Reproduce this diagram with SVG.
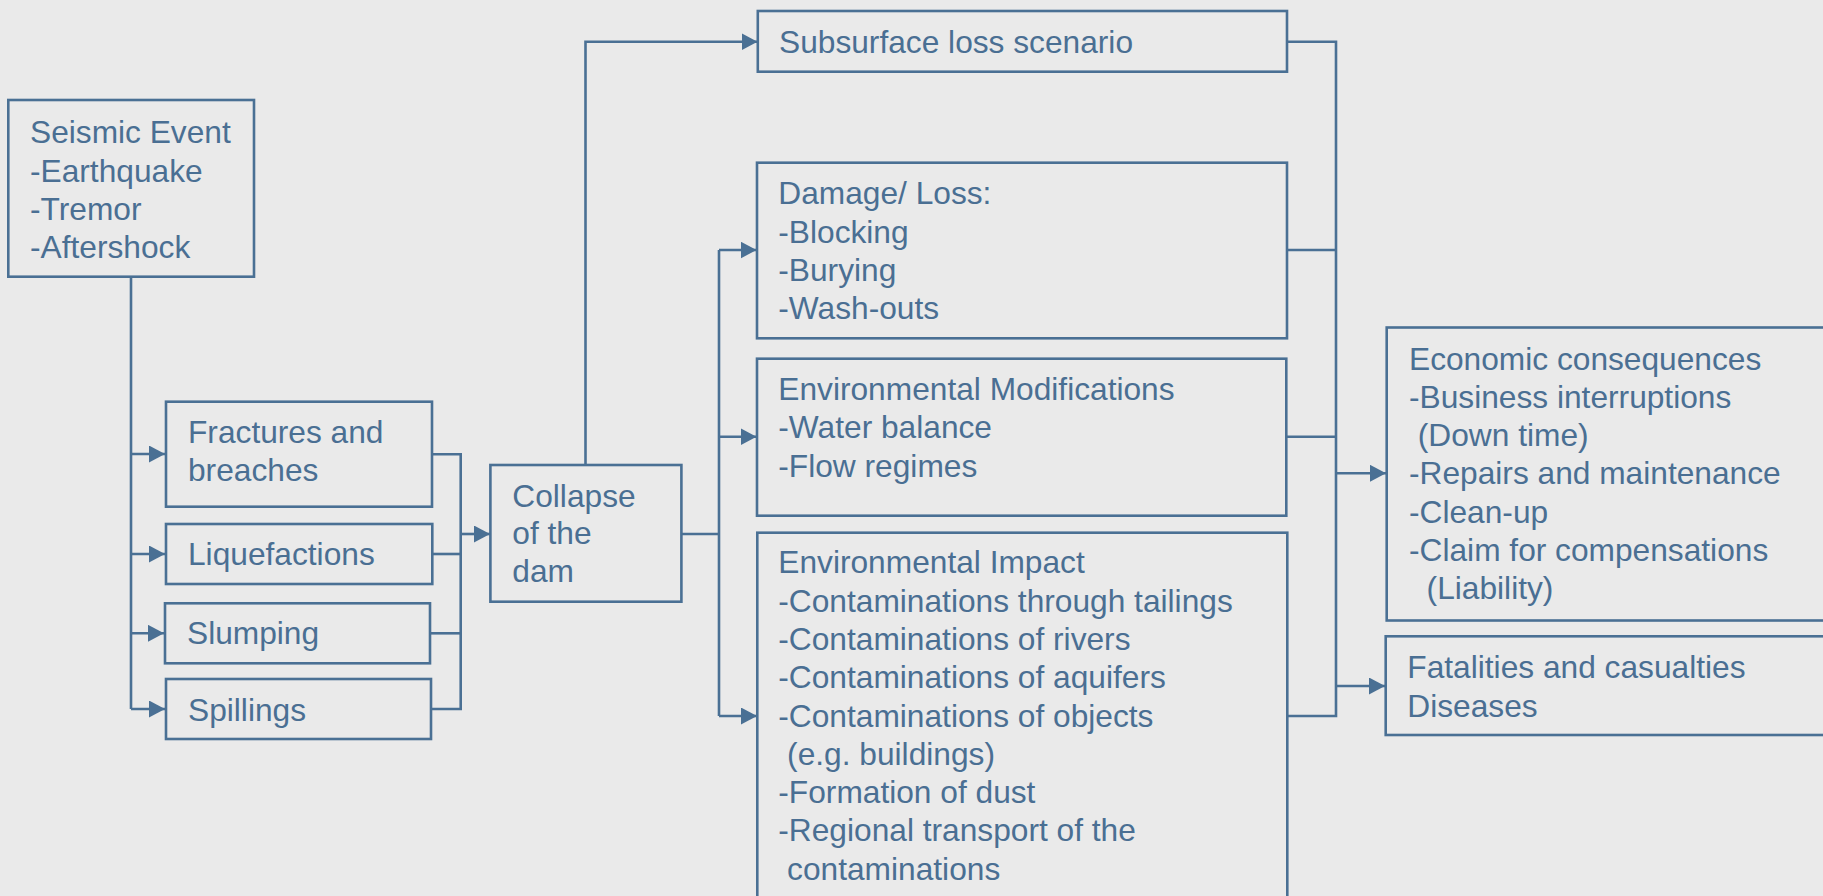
<svg xmlns="http://www.w3.org/2000/svg" width="1823" height="896" viewBox="0 0 1823 896">
<style>
.box{fill:none;stroke:#4a7094;stroke-width:2.6}
.ln{fill:none;stroke:#4a7094;stroke-width:2.6}
.t{font-family:"Liberation Sans",Arial,sans-serif;font-size:31.7px;fill:#4a6f93}
</style>
<defs>
<marker id="ah" markerUnits="userSpaceOnUse" markerWidth="16" markerHeight="17" refX="16" refY="8.5" orient="auto">
<path d="M0,0 L16,8.5 L0,17 z" fill="#4a7094"/>
</marker>
</defs>
<rect x="0" y="0" width="1823" height="896" fill="#eaeaea"/>
<g id="connectors">
<path class="ln" d="M131,277 V709"/>
<path class="ln" d="M131,454 H165" marker-end="url(#ah)"/>
<path class="ln" d="M131,554 H165" marker-end="url(#ah)"/>
<path class="ln" d="M131,633.3 H164" marker-end="url(#ah)"/>
<path class="ln" d="M131,709 H165" marker-end="url(#ah)"/>
<path class="ln" d="M432,454.3 H460.7 V709 H431"/>
<path class="ln" d="M432,554 H460.7"/>
<path class="ln" d="M430,633.3 H460.7"/>
<path class="ln" d="M460.7,534 H490" marker-end="url(#ah)"/>
<path class="ln" d="M585.5,465 V41.7 H757.5" marker-end="url(#ah)"/>
<path class="ln" d="M681,534 H719"/>
<path class="ln" d="M719,250 V716"/>
<path class="ln" d="M719,250 H756.5" marker-end="url(#ah)"/>
<path class="ln" d="M719,436.7 H756.5" marker-end="url(#ah)"/>
<path class="ln" d="M719,716 H757" marker-end="url(#ah)"/>
<path class="ln" d="M1287,41.7 H1336 V716 H1287"/>
<path class="ln" d="M1287,250 H1336"/>
<path class="ln" d="M1286,436.7 H1336"/>
<path class="ln" d="M1336,473.3 H1386" marker-end="url(#ah)"/>
<path class="ln" d="M1336,686 H1385" marker-end="url(#ah)"/>
</g>
<g id="seismic">
<rect class="box" x="8.3" y="100" width="245.7" height="176.7"/>
<text class="t" x="30" y="143.3">Seismic Event</text>
<text class="t" x="30" y="181.6">-Earthquake</text>
<text class="t" x="30" y="219.9">-Tremor</text>
<text class="t" x="30" y="258.2">-Aftershock</text>
</g>
<g id="fractures">
<rect class="box" x="166" y="401.7" width="266" height="105"/>
<text class="t" x="188" y="443.3">Fractures and</text>
<text class="t" x="188" y="480.9">breaches</text>
</g>
<g id="liquefactions">
<rect class="box" x="166" y="524" width="266.3" height="60"/>
<text class="t" x="188" y="565">Liquefactions</text>
</g>
<g id="slumping">
<rect class="box" x="165" y="603.3" width="265" height="60"/>
<text class="t" x="187" y="644.3">Slumping</text>
</g>
<g id="spillings">
<rect class="box" x="166" y="679" width="265" height="60"/>
<text class="t" x="188" y="721">Spillings</text>
</g>
<g id="collapse">
<rect class="box" x="490.4" y="465" width="191" height="136.7"/>
<text class="t" x="512.3" y="506.7">Collapse</text>
<text class="t" x="512.3" y="544.3">of the</text>
<text class="t" x="512.3" y="581.7">dam</text>
</g>
<g id="subsurface">
<rect class="box" x="757.8" y="11" width="529.2" height="60.7"/>
<text class="t" x="779" y="53.3">Subsurface loss scenario</text>
</g>
<g id="damage">
<rect class="box" x="757" y="162.7" width="530" height="175.6"/>
<text class="t" x="778.3" y="204.3">Damage/ Loss:</text>
<text class="t" x="778.3" y="242.6">-Blocking</text>
<text class="t" x="778.3" y="280.9">-Burying</text>
<text class="t" x="778.3" y="319.2">-Wash-outs</text>
</g>
<g id="envmod">
<rect class="box" x="757" y="358.7" width="529.3" height="157"/>
<text class="t" x="778.3" y="400">Environmental Modifications</text>
<text class="t" x="778.3" y="438.3">-Water balance</text>
<text class="t" x="778.3" y="476.6">-Flow regimes</text>
</g>
<g id="envimpact">
<rect class="box" x="757.3" y="532.7" width="530" height="400"/>
<text class="t" x="778.3" y="573.3">Environmental Impact</text>
<text class="t" x="778.3" y="611.6">-Contaminations through tailings</text>
<text class="t" x="778.3" y="649.9">-Contaminations of rivers</text>
<text class="t" x="778.3" y="688.2">-Contaminations of aquifers</text>
<text class="t" x="778.3" y="726.5">-Contaminations of objects</text>
<text class="t" x="787.1" y="764.8">(e.g. buildings)</text>
<text class="t" x="778.3" y="803.1">-Formation of dust</text>
<text class="t" x="778.3" y="841.4">-Regional transport of the</text>
<text class="t" x="787.1" y="879.7">contaminations</text>
</g>
<g id="economic">
<rect class="box" x="1386.7" y="327.5" width="500" height="293"/>
<text class="t" x="1409" y="369.7">Economic consequences</text>
<text class="t" x="1409" y="407.9">-Business interruptions</text>
<text class="t" x="1417.8" y="446.1">(Down time)</text>
<text class="t" x="1409" y="484.3">-Repairs and maintenance</text>
<text class="t" x="1409" y="522.5">-Clean-up</text>
<text class="t" x="1409" y="560.7">-Claim for compensations</text>
<text class="t" x="1426.6" y="598.9">(Liability)</text>
</g>
<g id="fatalities">
<rect class="box" x="1385.7" y="636.3" width="500" height="98.7"/>
<text class="t" x="1407.3" y="678.3">Fatalities and casualties</text>
<text class="t" x="1407.3" y="716.5">Diseases</text>
</g>
</svg>
